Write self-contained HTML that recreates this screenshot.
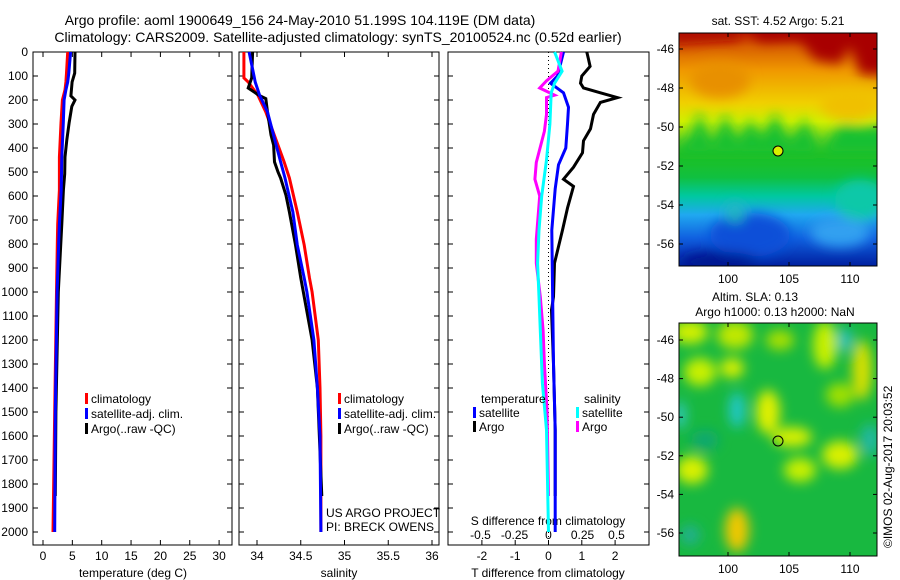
<!DOCTYPE html>
<html><head><meta charset="utf-8">
<style>
html,body{margin:0;padding:0;background:#fff;}
svg{display:block;font-family:"Liberation Sans",sans-serif;}
text{font-size:12px;fill:#000;}
</style></head>
<body>
<svg id="fig" width="900" height="580" viewBox="0 0 900 580">
<defs>
<filter id="bl" x="-20%" y="-20%" width="140%" height="140%"><feGaussianBlur stdDeviation="6"/></filter>
<filter id="bl2" x="-30%" y="-30%" width="160%" height="160%"><feGaussianBlur stdDeviation="6"/></filter>
<linearGradient id="sstg" x1="0" y1="0" x2="0" y2="1">
<stop offset="0" stop-color="#c02000"/><stop offset="0.06" stop-color="#d86000"/>
<stop offset="0.16" stop-color="#f09800"/><stop offset="0.3" stop-color="#f0d000"/>
<stop offset="0.38" stop-color="#d0f000"/><stop offset="0.46" stop-color="#60d020"/>
<stop offset="0.52" stop-color="#20c020"/><stop offset="0.62" stop-color="#10c040"/>
<stop offset="0.7" stop-color="#00c8a0"/><stop offset="0.78" stop-color="#20a8f0"/>
<stop offset="0.88" stop-color="#1060e0"/><stop offset="1" stop-color="#0020a0"/></linearGradient>
<clipPath id="c1"><rect x="679" y="33" width="198" height="233"/></clipPath>
<clipPath id="c2"><rect x="679" y="323" width="198" height="233"/></clipPath>
</defs>
<text x="300" y="25" text-anchor="middle" style="font-size:14px">Argo profile: aoml 1900649_156 24-May-2010 51.199S 104.119E (DM data)</text>
<text x="338" y="42" text-anchor="middle" style="font-size:14px">Climatology: CARS2009. Satellite-adjusted climatology: synTS_20100524.nc (0.52d earlier)</text>
<g id="panels"></g>
<g id="maps">
<g clip-path="url(#c1)">
<rect x="679" y="33" width="198" height="233" fill="url(#sstg)"/>
<g filter="url(#bl)">
<path d="M740 20 L760 42 L800 40 L815 60 L840 64 L850 45 L860 75 L890 75 L890 20 Z" fill="#a80000"/>
<path d="M670 20 L740 20 L740 40 L670 45Z" fill="#b01000"/>
<path d="M690 140 L700 110 L712 150 L725 112 L738 145 L750 118 L762 140 L775 112 L790 145 L805 118 L820 155 L840 125 L860 128 L890 125 L890 155 L670 155Z" fill="#18c030"/>
<ellipse cx="720" cy="80" rx="30" ry="18" fill="#e89000"/>
<ellipse cx="850" cy="105" rx="30" ry="15" fill="#f0c000"/>
<ellipse cx="750" cy="235" rx="40" ry="22" fill="#0a50d8"/>
<ellipse cx="735" cy="212" rx="10" ry="10" fill="#20b8c0"/>
<ellipse cx="860" cy="200" rx="25" ry="20" fill="#10c8a8"/>
<ellipse cx="840" cy="232" rx="30" ry="15" fill="#30a0f0"/>
<ellipse cx="720" cy="262" rx="40" ry="10" fill="#001890"/>
</g>
</g>
<rect x="679" y="33" width="198" height="233" fill="none" stroke="#000"/>
<circle cx="778" cy="151" r="5" fill="#d8f000" stroke="#000"/>
<g clip-path="url(#c2)">
<rect x="679" y="323" width="198" height="233" fill="#18b840"/>
<g filter="url(#bl2)">
<ellipse cx="690" cy="332" rx="18" ry="12" fill="#d0f000"/>
<ellipse cx="735" cy="335" rx="18" ry="14" fill="#c0e800"/>
<ellipse cx="780" cy="340" rx="14" ry="10" fill="#a8e000"/>
<ellipse cx="825" cy="345" rx="12" ry="24" fill="#c8f000"/>
<ellipse cx="862" cy="370" rx="10" ry="30" fill="#d8e000"/>
<ellipse cx="845" cy="340" rx="7" ry="12" fill="#20c0c0"/>
<ellipse cx="700" cy="372" rx="16" ry="14" fill="#c8f000"/>
<ellipse cx="732" cy="368" rx="12" ry="10" fill="#d8f000"/>
<ellipse cx="737" cy="410" rx="8" ry="18" fill="#20c8c8"/>
<ellipse cx="768" cy="412" rx="12" ry="22" fill="#e0f000"/>
<ellipse cx="792" cy="437" rx="20" ry="10" fill="#d8f000"/>
<ellipse cx="840" cy="395" rx="14" ry="12" fill="#a0e000"/>
<ellipse cx="840" cy="455" rx="18" ry="14" fill="#d8f000"/>
<ellipse cx="692" cy="470" rx="16" ry="14" fill="#d8f000"/>
<ellipse cx="800" cy="470" rx="16" ry="12" fill="#c8f000"/>
<ellipse cx="737" cy="530" rx="12" ry="22" fill="#f0c800"/>
<ellipse cx="690" cy="535" rx="10" ry="10" fill="#20b090"/>
<ellipse cx="705" cy="440" rx="14" ry="10" fill="#10a870"/>
<ellipse cx="870" cy="440" rx="10" ry="16" fill="#20b8a0"/>
<ellipse cx="680" cy="415" rx="6" ry="14" fill="#30c8c0"/>
</g>
</g>
<rect x="679" y="323" width="198" height="233" fill="none" stroke="#000"/>
<circle cx="778" cy="441" r="5" fill="none" stroke="#000"/>
<text x="778" y="25" text-anchor="middle">sat. SST: 4.52 Argo: 5.21</text>
<text x="755" y="301" text-anchor="middle">Altim. SLA: 0.13</text>
<text x="775" y="316" text-anchor="middle">Argo h1000: 0.13 h2000: NaN</text>
<text transform="translate(892,548) rotate(-90)">©IMOS 02-Aug-2017 20:03:52</text>
</g>
</svg>
<script>
// ---- data ----
const depthTicks = [0,100,200,300,400,500,600,700,800,900,1000,1100,1200,1300,1400,1500,1600,1700,1800,1900,2000];
const tempTicks = [0,5,10,15,20,25,30];
const salTicks = [34,34.5,35,35.5,36];
const salTickLabels = ['34','34.5','35','35.5','36'];
const dTTicks = [-2,-1,0,1,2];
const dSTicks = [-0.5,-0.25,0,0.25,0.5];
const dSTickLabels = ['-0.5','-0.25','0','0.25','0.5'];

const depthTClim = [0,88,125,158,200,296,438,575,717,780,1000,1500,2000];
const tempClim = [4.2,4.0,3.9,3.75,3.3,3.07,2.8,2.8,2.5,2.45,2.3,2.0,1.7];
const tempSat = [4.7,4.4,4.2,3.9,3.6,3.46,3.2,3.1,2.8,2.7,2.4,2.1,2.0];
const depthTArgo = [0,88,125,183,200,227,296,367,438,508,575,717,1000,1500,1850];
const tempArgo = [5.45,5.4,4.95,4.75,5.45,4.9,4.45,4.05,3.75,3.7,3.48,3.2,2.6,2.2,2.1];

const depthSClim = [0,108,125,180,250,388,458,525,667,804,942,1000,1200,1400,1600,2000];
const salClim = [33.85,33.85,33.9,34.01,34.1,34.24,34.31,34.37,34.46,34.54,34.6,34.63,34.70,34.72,34.73,34.73];
const salSat = [33.91,33.97,33.98,34.03,34.12,34.22,34.27,34.32,34.41,34.46,34.54,34.57,34.65,34.69,34.72,34.73];
const depthSArgo = [0,108,150,180,194,250,346,388,458,500,525,596,667,804,942,1200,1400,1850];
const salArgo = [33.95,33.94,33.9,34.02,34.1,34.12,34.16,34.19,34.2,34.24,34.27,34.33,34.37,34.44,34.5,34.63,34.69,34.74];

const depthDTArgo = [0,30,60,100,130,150,170,190,210,260,320,370,420,480,530,560,650,742,880,1020,1075,1300,1575,1850];
const dTArgo = [1.15,1.2,1.25,1.0,0.96,1.05,1.56,2.07,1.56,1.35,1.26,1.05,1.02,0.75,0.45,0.75,0.57,0.42,0.18,0.15,0.09,0.15,0.2,0.2];
const depthDTSat = [0,100,130,170,230,300,400,470,570,742,1300,1575,2000];
const dTSat = [0.45,0.27,0.06,0.45,0.6,0.57,0.52,0.3,0.2,0.1,0.15,0.2,0.2];
const depthDSSat = [0,80,130,170,300,450,600,742,880,1020,1160,1380,1575,2000];
const dSSat = [0.045,0.1,0.045,0.02,0.01,-0.015,-0.05,-0.07,-0.08,-0.07,-0.06,-0.045,-0.015,0];
const depthDSArgo = [0,80,120,150,180,190,260,330,460,530,600,780,880,1020,1160,1300,1500,1850];
const dSArgo = [0.095,0.07,-0.015,-0.065,0.045,-0.015,-0.015,-0.03,-0.09,-0.1,-0.065,-0.09,-0.09,-0.06,-0.04,-0.03,-0.01,0];

const latTicks = [-46,-48,-50,-52,-54,-56];
const lonTicks = [100,105,110];

// ---- axes ----
const NS='http://www.w3.org/2000/svg';
const root=document.getElementById('panels');
const yD = d => 52 + d*0.24;
const xT = t => 43 + t*5.87;
const xS = s => 257 + (s-34)*87.5;
const xDT = t => 548.5 + t*33.3;
const xDS = s => 548.5 + s*136;
function el(tag,attrs,parent){const e=document.createElementNS(NS,tag);for(const k in attrs)e.setAttribute(k,attrs[k]);(parent||root).appendChild(e);return e;}
function txt(x,y,s,anchor,parent){const t=el('text',{x:x,y:y,'text-anchor':anchor||'start'},parent);t.textContent=s;return t;}

const panels=[{x0:33,x1:232,name:'temperature'},{x0:239,x1:439,name:'salinity'},{x0:448,x1:649,name:'difference'}];
panels.forEach(p=>{
  const g=el('g',{});
  
  
  const r=el('rect',{x:p.x0,y:52,width:p.x1-p.x0,height:493,fill:'none',stroke:'#000'},g);
  
  
  depthTicks.forEach(d=>{
    el('line',{x1:p.x0,x2:p.x0+5,y1:yD(d),y2:yD(d),stroke:'#000'},g);
    el('line',{x1:p.x1-5,x2:p.x1,y1:yD(d),y2:yD(d),stroke:'#000'},g);
  });
  p.g=g;
});
depthTicks.forEach(d=>{
  const t=txt(28,yD(d)+4,String(d),'end');
  
  
});
function xticks(g,vals,labels,fx,ylab,top){
  vals.forEach((v,i)=>{
    const x=fx(v);
    el('line',{x1:x,x2:x,y1:545,y2:540,stroke:'#000'},g);
    if(top) el('line',{x1:x,x2:x,y1:52,y2:57,stroke:'#000'},g);
    const t=txt(x,ylab,labels[i],'middle',g);
    
    
  });
}
xticks(panels[0].g,tempTicks,tempTicks.map(String),xT,560,true);
xticks(panels[1].g,salTicks,salTickLabels,xS,560,true);
xticks(panels[2].g,dTTicks,dTTicks.map(String),xDT,560,false);
dSTicks.forEach((v,i)=>{
  const t=txt(xDS(v),539,dSTickLabels[i],'middle');
  
  
});
let t;
t=txt(133,577,'temperature (deg C)','middle');


t=txt(339,577,'salinity','middle');


t=txt(548,577,'T difference from climatology','middle');


t=txt(548,525,'S difference from climatology','middle');


const z=el('line',{x1:xDT(0),x2:xDT(0),y1:52,y2:545,stroke:'#000','stroke-dasharray':'1,3'});



function series(depths,vals,fx,color,name){
  const pts=depths.map((d,i)=>fx(vals[i]).toFixed(1)+','+yD(d).toFixed(1)).join(' ');
  const pl=el('polyline',{points:pts,fill:'none',stroke:color,'stroke-width':3,'stroke-linejoin':'miter'});
  
  
}
series(depthTClim,tempClim,xT,'#ff0000','temp-climatology-line');
series(depthTArgo,tempArgo,xT,'#000000','temp-argo-line');
series(depthTClim,tempSat,xT,'#0000ff','temp-satellite-line');
series(depthSClim,salClim,xS,'#ff0000','sal-climatology-line');
series(depthSArgo,salArgo,xS,'#000000','sal-argo-line');
series(depthSClim,salSat,xS,'#0000ff','sal-satellite-line');
series(depthDTArgo,dTArgo,xDT,'#000000','t-diff-argo-line');
series(depthDTSat,dTSat,xDT,'#0000ff','t-diff-satellite-line');
series(depthDSArgo,dSArgo,xDS,'#ff00ff','s-diff-argo-line');
series(depthDSSat,dSSat,xDS,'#00ffff','s-diff-satellite-line');

function legend(x,y,color,label){
  el('rect',{x:x,y:y-10,width:3,height:11,fill:color});
  const t=txt(x+6,y,label,'start');
  
  
}
[[85,'#ff0000','climatology'],[85,'#0000ff','satellite-adj. clim.'],[85,'#000000','Argo(..raw -QC)']].forEach((e,i)=>legend(e[0],403+i*15,e[1],e[2]));
[[338,'#ff0000','climatology'],[338,'#0000ff','satellite-adj. clim.'],[338,'#000000','Argo(..raw -QC)']].forEach((e,i)=>legend(e[0],403+i*15,e[1],e[2]));
t=txt(481,403,'temperature','start');


t=txt(584,403,'salinity','start');


legend(473,417,'#0000ff','satellite');
legend(473,431,'#000000','Argo');
legend(576,417,'#00ffff','satellite');
legend(576,431,'#ff00ff','Argo');
t=txt(326,517,'US ARGO PROJECT','start');


t=txt(326,531,'PI: BRECK OWENS','start');



const mapsG=document.getElementById('maps');
const xLon = l => 728 + (l-100)*12.2;
[[33,266,49,19.5],[323,556,340,19.3]].forEach(m=>{
  latTicks.forEach(l=>{
    const y=m[2]+(-46-l)*m[3];
    el('line',{x1:679,x2:683,y1:y,y2:y,stroke:'#000'},mapsG);
    el('line',{x1:873,x2:877,y1:y,y2:y,stroke:'#000'},mapsG);
    const tt=txt(674,y+4,String(l),'end',mapsG);
    
    
  });
  lonTicks.forEach(l=>{
    const x=xLon(l);
    el('line',{x1:x,x2:x,y1:m[1],y2:m[1]-4,stroke:'#000'},mapsG);
    el('line',{x1:x,x2:x,y1:m[0],y2:m[0]+4,stroke:'#000'},mapsG);
    const tt=txt(x,m[1]+17,String(l),'middle',mapsG);
    
    
  });
});
</script>
</body></html>
